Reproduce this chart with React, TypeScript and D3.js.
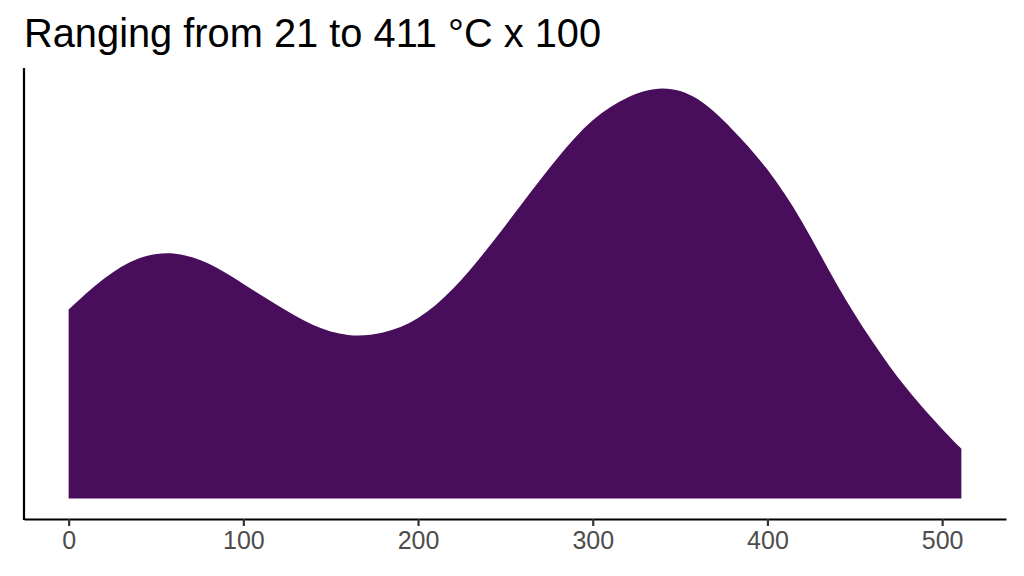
import * as d3 from "d3";
import { useEffect, useRef } from "react";

const width = 1024;
const height = 576;
const margin = { top: 68, right: 18, bottom: 57, left: 24 };

// density estimate (x in units, density x 1e-3)
const xValues = [
  0, 20, 40, 60, 80, 100, 120, 140, 160, 180, 200, 220, 240, 260, 280, 300,
  320, 340, 360, 380, 400, 420, 440, 460, 480, 500, 511,
];
const densityValues = [
  1.429, 1.659, 1.814, 1.852, 1.776, 1.622, 1.458, 1.312, 1.237, 1.256, 1.365,
  1.586, 1.894, 2.238, 2.577, 2.859, 3.032, 3.1, 3.02, 2.789, 2.487, 2.087,
  1.613, 1.189, 0.827, 0.526, 0.377,
];
const xTicks = [0, 100, 200, 300, 400, 500];
const title = "Ranging from 21 to 411 °C x 100";

const fill = "#480E5C";

function App() {
  const ref = useRef<SVGSVGElement>(null);

  useEffect(() => {
    const svg = d3.select(ref.current);
    svg.selectAll("*").remove();

    const data = xValues.map((x, i) => ({ x, y: densityValues[i] }));

    const xMin = d3.min(xValues) as number;
    const xMax = d3.max(xValues) as number;
    const yMax = d3.max(densityValues) as number;
    const xPad = (xMax - xMin) * 0.05;
    const yPad = yMax * 0.05;

    const xScale = d3
      .scaleLinear()
      .domain([xMin - xPad, xMax + xPad])
      .range([margin.left, width - margin.right]);
    const yScale = d3
      .scaleLinear()
      .domain([-yPad, yMax + yPad])
      .range([height - margin.bottom, margin.top]);

    const area = d3
      .area<{ x: number; y: number }>()
      .x((d) => xScale(d.x))
      .y0(yScale(0))
      .y1((d) => yScale(d.y))
      .curve(d3.curveNatural);

    svg
      .append("path")
      .datum(data)
      .attr("d", area)
      .attr("fill", fill);

    // x axis
    const xAxis = svg
      .append("g")
      .attr("transform", `translate(0,${height - margin.bottom})`)
      .call(
        d3
          .axisBottom(xScale)
          .tickValues(xTicks)
          .tickSize(7)
          .tickPadding(5)
          .tickSizeOuter(0)
      );
    xAxis.select(".domain").attr("stroke", "black").attr("stroke-width", 2.2);
    xAxis.selectAll(".tick line").attr("stroke", "#333333").attr("stroke-width", 2.2);
    xAxis
      .selectAll(".tick text")
      .attr("fill", "#4D4D4D")
      .style("font-size", "25px")
      .style("font-family", "Liberation Sans, Arial, sans-serif");

    // y axis line only
    svg
      .append("line")
      .attr("x1", margin.left)
      .attr("x2", margin.left)
      .attr("y1", margin.top)
      .attr("y2", height - margin.bottom + 1.1)
      .attr("stroke", "black")
      .attr("stroke-width", 2.2);

    // title
    svg
      .append("text")
      .attr("x", margin.left)
      .attr("y", 46.5)
      .attr("fill", "black")
      .style("font-size", "39.8px")
      .style("font-family", "Liberation Sans, Arial, sans-serif")
      .text(title);
  }, []);

  return (
    <svg
      ref={ref}
      width={width}
      height={height}
      style={{ position: "absolute", left: 0, top: 0, background: "white" }}
    />
  );
}

export default App;
